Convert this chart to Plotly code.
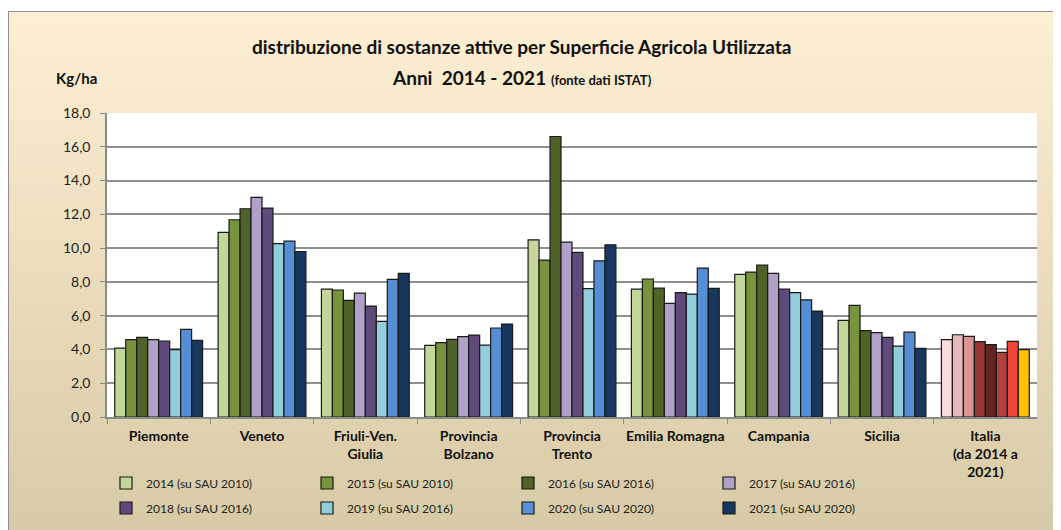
import plotly.graph_objects as go

W, H = 1061, 530
# the page puts the figure 8px in from the top-left corner; screen positions are corrected for it
OFF = 8

categories = ["Piemonte", "Veneto", "Friuli-Ven.<br>Giulia", "Provincia<br>Bolzano",
              "Provincia<br>Trento", "Emilia Romagna", "Campania", "Sicilia",
              "Italia<br>(da 2014 a<br>2021)"]

series_names = ["2014 (su SAU 2010)", "2015 (su SAU 2010)", "2016 (su SAU 2016)",
                "2017 (su SAU 2016)", "2018 (su SAU 2016)", "2019 (su SAU 2016)",
                "2020 (su SAU 2020)", "2021 (su SAU 2020)"]

v2014 = [4.08, 10.93, 7.57, 4.24, 10.49, 7.57, 8.44, 5.72, 4.58]
v2015 = [4.58, 11.68, 7.52, 4.40, 9.29, 8.17, 8.58, 6.61, 4.87]
v2016 = [4.72, 12.33, 6.91, 4.60, 16.61, 7.63, 8.99, 5.11, 4.77]
v2017 = [4.58, 13.00, 7.34, 4.76, 10.36, 6.73, 8.50, 4.99, 4.46]
v2018 = [4.50, 12.37, 6.57, 4.85, 9.75, 7.36, 7.57, 4.72, 4.28]
v2019 = [3.99, 10.26, 5.66, 4.26, 7.60, 7.28, 7.36, 4.20, 3.83]
v2020 = [5.19, 10.41, 8.15, 5.27, 9.25, 8.82, 6.94, 5.03, 4.48]
v2021 = [4.54, 9.80, 8.50, 5.50, 10.20, 7.62, 6.27, 4.06, 3.99]
series_values = [v2014, v2015, v2016, v2017, v2018, v2019, v2020, v2021]

# regional colours per year, and the separate palette used for the Italia group
series_colors = ["#C4D79B", "#77933C", "#4F6228", "#B1A0C7",
                 "#604A7B", "#92CDDC", "#558ED5", "#17375E"]
italia_colors = ["#FCDCDC", "#E6B8B7", "#DA9694", "#963634",
                 "#632523", "#B0403C", "#F0473A", "#FFC000"]


def px_x(x):
    return (x - OFF) / W


def px_y(y):
    return 1 - (y - OFF) / H


fig = go.Figure()

for i, (name, vals) in enumerate(zip(series_names, series_values)):
    colors = [series_colors[i]] * (len(categories) - 1) + [italia_colors[i]]
    fig.add_trace(go.Bar(
        x=categories, y=vals, name=name,
        marker=dict(color=colors, line=dict(color="#1a1a1a", width=1.2)),
        legend="legend" if i < 4 else "legend2",
    ))

# vertical gradient background of the chart area, drawn as thin stripes
shapes = []
top_c = (253, 239, 211)
bot_c = (215, 202, 166)
n = 104
y_top, y_bot = 11, H + OFF
for k in range(n):
    t = k / (n - 1)
    c = tuple(round(a + (b - a) * t) for a, b in zip(top_c, bot_c))
    y0 = y_top + (y_bot - y_top) * k / n
    y1 = y_top + (y_bot - y_top) * (k + 1) / n
    shapes.append(dict(type="rect", xref="paper", yref="paper", layer="below",
                       x0=px_x(8), x1=1, y0=max(px_y(y1) - 0.002, 0), y1=px_y(y0),
                       fillcolor="rgb(%d,%d,%d)" % c, line=dict(width=0)))
shapes.append(dict(type="path", xref="paper", yref="paper", layer="below",
                   path="M %f,0 L %f,%f L 1,%f" % (px_x(8.5), px_x(8.5), px_y(11.5), px_y(11.5)),
                   line=dict(color="#8f8f8f", width=1)))
shapes.append(dict(type="rect", xref="paper", yref="paper", layer="below",
                   x0=px_x(107), x1=px_x(1037), y0=px_y(417), y1=px_y(113),
                   fillcolor="white", line=dict(width=0)))

font = "Lato, 'Open Sans', sans-serif"
legend_style = dict(orientation="h", xanchor="left", yanchor="middle",
                    entrywidth=156, entrywidthmode="pixels", bgcolor="rgba(0,0,0,0)",
                    font=dict(family=font, size=12, color="#222"))

fig.update_layout(
    width=W, height=H,
    margin=dict(l=0, r=0, t=0, b=0, autoexpand=False),
    paper_bgcolor="white",
    plot_bgcolor="rgba(0,0,0,0)",
    separators=",.",
    font=dict(family=font, size=13, color="#1a1a1a"),
    barmode="group", bargap=0.15, bargroupgap=0,
    shapes=shapes,
    xaxis=dict(domain=[px_x(107), px_x(1037)], showgrid=False, automargin=False,
               showline=True, linecolor="#8a8a8a", linewidth=1.5, tickangle=0,
               ticks="outside", tickson="boundaries", ticklen=5, tickcolor="#8a8a8a",
               tickfont=dict(family=font, size=14, color="#111"), ticklabelstandoff=5,
               tickprefix="<b>", ticksuffix="</b>"),
    yaxis=dict(domain=[px_y(417), px_y(113)], range=[0, 18], dtick=2, automargin=False,
               tickformat=".1f", showgrid=True, gridcolor="#8f8f8f", gridwidth=1.5,
               showline=True, linecolor="#8a8a8a", linewidth=1.5, zeroline=False,
               ticks="outside", ticklen=5, tickcolor="#8a8a8a",
               tickfont=dict(family=font, size=14, color="#222"), ticklabelstandoff=7),
    legend=dict(legend_style, x=px_x(106), y=px_y(483)),
    legend2=dict(legend_style, x=px_x(106), y=px_y(508)),
    annotations=[
        dict(text="<b>distribuzione di sostanze attive per Superficie Agricola Utilizzata</b>",
             xref="paper", yref="paper", x=px_x(521), y=px_y(47), showarrow=False,
             xanchor="center", yanchor="middle",
             font=dict(family=font, size=19, color="#111")),
        dict(text="<b>Anni\u00a0 2014 - 2021</b> <b><span style='font-size:13px'>(fonte dati ISTAT)</span></b>",
             xref="paper", yref="paper", x=px_x(522), y=px_y(78), showarrow=False,
             xanchor="center", yanchor="middle",
             font=dict(family=font, size=19, color="#111")),
        dict(text="<b>Kg/ha</b>", xref="paper", yref="paper", x=px_x(76), y=px_y(78),
             showarrow=False, xanchor="center", yanchor="middle",
             font=dict(family=font, size=15, color="#111")),
    ],
)

fig.write_html("out.html")
